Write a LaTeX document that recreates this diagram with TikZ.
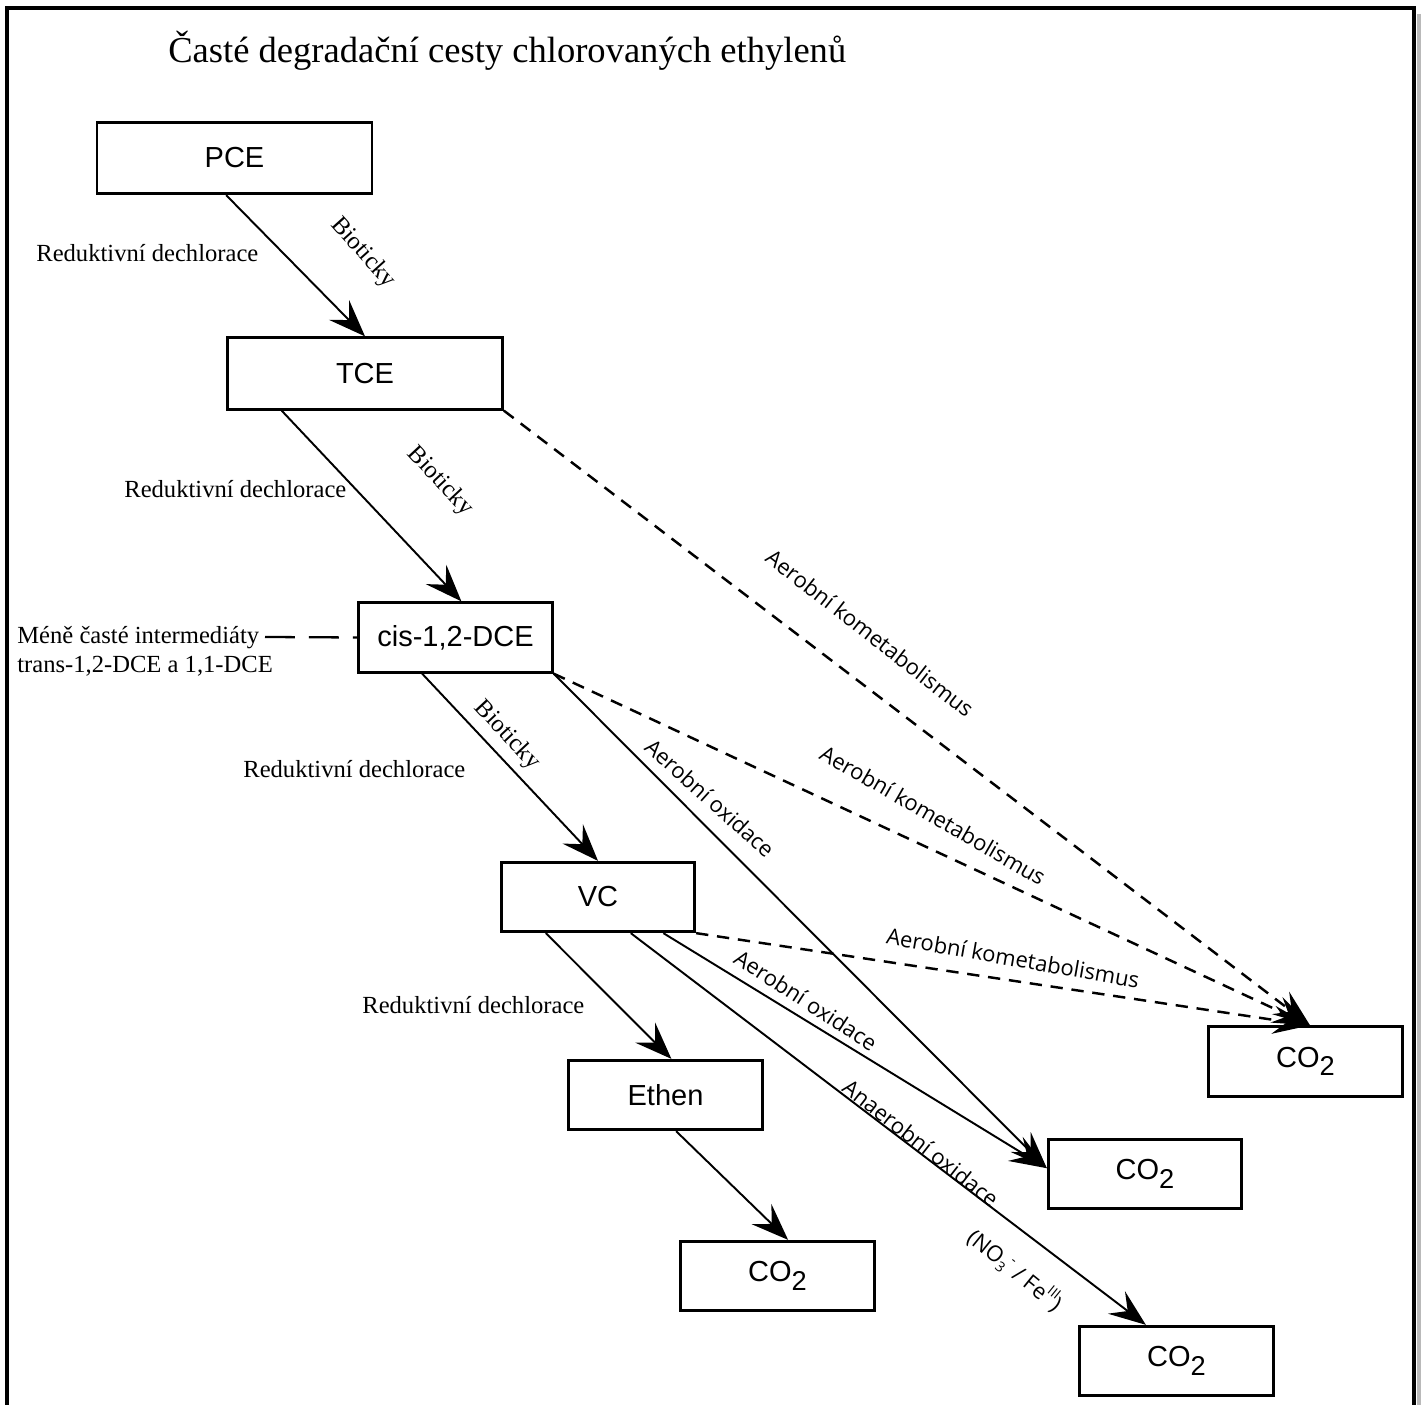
\documentclass[tikz,border=0pt]{standalone}
\usepackage{fontspec}
\setmainfont{Liberation Serif}
\newfontfamily\boxfont{Liberation Sans}
\newfontfamily\labfont{Open Sans}
\usetikzlibrary{arrows.meta,calc}
\newcommand\cotwo{CO\raisebox{-0.3em}{\fontsize{15.5}{15.5}\selectfont 2}}
\begin{document}
\begin{tikzpicture}[x=0.02cm,y=-0.02cm,
  box/.style={draw,line width=1.6pt,inner sep=0pt,minimum width=3.87cm,minimum height=1.39cm,font=\boxfont\fontsize{16.5}{18}\selectfont},
  bigbox/.style={box,minimum width=5.5cm,minimum height=1.43cm},
  tip/.style={-{Stealth[length=21pt,width=16pt,inset=8pt]}},
  conn/.style={line width=1.1pt,tip},
  dconn/.style={line width=1.4pt,dash pattern=on 7pt off 5pt,tip},
  serlab/.style={font=\fontsize{14}{16}\selectfont,inner sep=0pt},
  sanlab/.style={font=\labfont\fontsize{12.5}{14}\selectfont,inner sep=0pt},
]
\clip (0,0) rectangle (1421,1405);
\fill[white] (0,0) rectangle (1421,1405);
% frame
\draw[gray!55,line width=1.8pt] (1419,14) -- (1419,1430);
\draw[line width=2.4pt] (7,1430) -- (7,8) -- (1414,8) -- (1414,1430);

% title
\node[anchor=base west,inner sep=0pt,font=\fontsize{20.8}{24}\selectfont] (title) at (168,63) {Časté degradační cesty chlorovaných ethylenů};

% boxes
\node[bigbox] (pce) at (234.5,158) {PCE};
\node[bigbox] (tce) at (365,373.5) {TCE};
\node[box] (cis) at (455.5,637.5) {cis-1,2-DCE};
\node[box] (vc) at (598,897) {VC};
\node[box] (ethen) at (665.5,1095) {Ethen};
\node[box] (co2a) at (777.5,1276) {\cotwo};
\node[box] (co2b) at (1145,1174) {\cotwo};
\node[box] (co2c) at (1305.5,1061.5) {\cotwo};
\node[box] (co2d) at (1176.5,1361) {\cotwo};

% reductive chain
\draw[conn] ($(pce.south west)!0.47!(pce.south east)$) -- (tce.north);
\draw[conn] ($(tce.south west)!0.2!(tce.south east)$) -- ($(cis.north west)!0.53!(cis.north east)$);
\draw[conn] ($(cis.south west)!0.33!(cis.south east)$) -- (vc.north);
\draw[conn] ($(vc.south west)!0.234!(vc.south east)$) -- ($(ethen.north west)!0.53!(ethen.north east)$);
\draw[conn] ($(ethen.south west)!0.554!(ethen.south east)$) -- ($(co2a.north west)!0.554!(co2a.north east)$);

% oxidation
\draw[conn] ($(vc.south west)!0.667!(vc.south east)$) -- ($(co2d.north west)!0.344!(co2d.north east)$);
\draw[conn] ($(vc.south west)!0.833!(vc.south east)$) -- ($(co2b.north west)!0.42!(co2b.south west)$);
\draw[conn] (cis.south east) -- ($(co2b.north west)!0.42!(co2b.south west)$);

% cometabolism
\draw[dconn] (tce.south east) -- ($(co2c.north west)!0.523!(co2c.north east)$);
\draw[dconn] (cis.south east) -- ($(co2c.north west)!0.523!(co2c.north east)$);
\draw[dconn] (vc.south east) -- ($(co2c.north west)!0.523!(co2c.north east)$);

% minor intermediates
\node[serlab,anchor=west,align=left,font=\fontsize{14}{16.5}\selectfont] (minor) at (17,651) {Méně časté intermediáty\\trans-1,2-DCE a 1,1-DCE};
\coordinate (minorend) at (265,637);
\draw[line width=1.3pt,dash pattern=on 17pt off 8pt] (minorend) -- (cis.west);

% labels
\node[serlab,anchor=west] (rd1) at (36,253) {Reduktivní dechlorace};
\node[serlab,anchor=west] (rd2) at (124,489) {Reduktivní dechlorace};
\node[serlab,anchor=west] (rd3) at (243,769) {Reduktivní dechlorace};
\node[serlab,anchor=west] (rd4) at (362,1005) {Reduktivní dechlorace};
\node[serlab,rotate=-48] (bio1) at (363,253) {Bioticky};
\node[serlab,rotate=-47] (bio2) at (440,481) {Bioticky};
\node[serlab,rotate=-47] (bio3) at (507,735) {Bioticky};

\node[sanlab,rotate=-38] (ak1) at (870,633) {Aerobní kometabolismus};
\node[sanlab,rotate=-30] (ak2) at (933,815) {Aerobní kometabolismus};
\node[sanlab,rotate=-10] (ak3) at (1013,958) {Aerobní kometabolismus};
\node[sanlab,rotate=-42] (ao1) at (710,798) {Aerobní oxidace};
\node[sanlab,rotate=-33] (ao2) at (806,1000) {Aerobní oxidace};
\node[sanlab,rotate=-38] (an1) at (921,1143) {Anaerobní oxidace};
\node[sanlab,rotate=-39] (an2) at (1015,1270) {(NO\raisebox{-0.35ex}{\fontsize{8}{8}\selectfont 3}\raisebox{0.9ex}{\fontsize{8}{8}\selectfont -} / Fe\raisebox{0.9ex}{\fontsize{8}{8}\selectfont III})};
\end{tikzpicture}
\end{document}
